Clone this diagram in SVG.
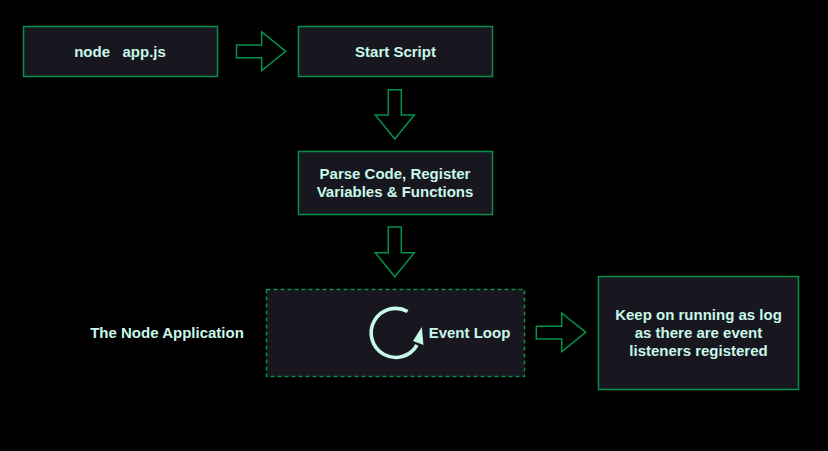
<svg xmlns="http://www.w3.org/2000/svg" width="828" height="451" viewBox="0 0 828 451">
<style>
.box{fill:#18171f;stroke:#05914a;stroke-width:1.5}
.dash{stroke-dasharray:4 3}
.arr{fill:none;stroke:#05914a;stroke-width:1.5}
text{font-family:"Liberation Sans",Arial,sans-serif;font-size:15px;font-weight:700;fill:#c8f8ea;text-anchor:middle}
</style>
<rect width="828" height="451" fill="#000"/>
<g id="connectors">
<path class="arr" d="M236.5 45H261.7V31.8L285.7 51.3L261.7 70.7V57.7H236.5Z"/>
<path class="arr" d="M388.3 89.7H401.3V115H414.3L394.8 139L375.3 115H388.3Z"/>
<path class="arr" d="M388.3 227H401.3V252.7H414.3L394.8 276.7L375.3 252.7H388.3Z"/>
<path class="arr" d="M536.3 326.3H561.7V313L585.7 332.3L561.7 351.7V339H536.3Z"/>
</g>
<g id="node-app"><rect class="box" x="23.5" y="26.5" width="194" height="50"/><text x="120" y="57">node &#160; app.js</text></g>
<g id="start-script"><rect class="box" x="298.5" y="26.5" width="194" height="50"/><text x="395.5" y="57">Start Script</text></g>
<g id="parse-code"><rect class="box" x="298.5" y="151.5" width="194" height="63"/><text x="395" y="179">Parse Code, Register</text><text x="395" y="197">Variables &amp; Functions</text></g>
<g id="label"><text x="167" y="338">The Node Application</text></g>
<g id="event-loop"><rect class="box dash" x="266.5" y="289.5" width="258" height="87"/>
<path d="M407.6 311.5A24.5 24.5 0 1 0 417 345" fill="none" stroke="#c8f8ea" stroke-width="3.6"/>
<path d="M421.8 327L423.5 345L413 341Z" fill="#c8f8ea"/>
<text x="469.5" y="338">Event Loop</text></g>
<g id="keep-running"><rect class="box" x="598.5" y="276.5" width="200" height="113"/><text x="698.5" y="320">Keep on running as log</text><text x="698.5" y="338">as there are event</text><text x="698.5" y="356">listeners registered</text></g>
</svg>
